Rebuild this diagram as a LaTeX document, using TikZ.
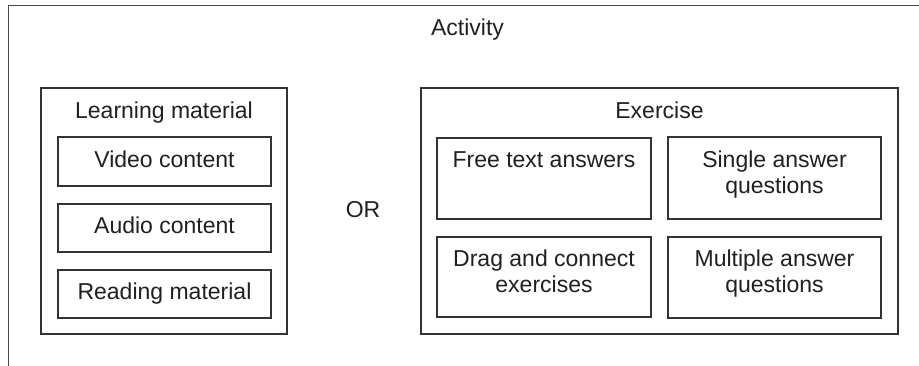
\documentclass[tikz,border=0pt]{standalone}
\usepackage{fontspec}
\setmainfont{Liberation Sans}
\usetikzlibrary{calc}
\definecolor{edge}{HTML}{333333}
\definecolor{ink}{HTML}{202020}
\begin{document}
\begin{tikzpicture}[x=1pt,y=-1pt,
  box/.style={draw=edge, line width=1.3pt, rectangle, inner sep=0pt, fill=white},
  txt/.style={text=ink, inner sep=0pt, anchor=base, align=center,
    font=\fontsize{23}{26}\selectfont}]
  \useasboundingbox (0,0) rectangle (919,365);
  % open frame of the activity: top and left edges only
  \coordinate (fbl) at (8.5,366);
  \coordinate (ftl) at (8.5,5.5);
  \coordinate (ftr) at (920,5.5);
  \draw[draw=edge!90, line width=1.5pt] (fbl) -- (ftl) -- (ftr);
  \node[txt] (activity) at (467.5,35) {Activity};

  % learning material group
  \node[box, minimum width=246, minimum height=246] (lm) at (164,211) {};
  \node[txt] (lmt) at (164,118) {Learning material};
  \node[box, minimum width=213, minimum height=49] (video) at (164.5,161.5) {};
  \node[txt] at (164.5,167) {Video content};
  \node[box, minimum width=213, minimum height=48] (audio) at (164.5,228) {};
  \node[txt] at (164.5,233) {Audio content};
  \node[box, minimum width=213, minimum height=48] (reading) at (164.5,294) {};
  \node[txt] at (164.5,299) {Reading material};

  \node[txt] (or) at (363,217) {OR};

  % exercise group (multi-line labels sit on the baseline of their last line)
  \node[box, minimum width=477, minimum height=246] (ex) at (659.5,211) {};
  \node[txt] (ext) at (659.5,118) {Exercise};
  \node[box, minimum width=214, minimum height=81] (free) at (544,178.5) {};
  \node[txt] at (544,167) {Free text answers};
  \node[box, minimum width=213, minimum height=82] (single) at (774.5,178) {};
  \node[txt] at (774.5,193) {Single answer\\questions};
  \node[box, minimum width=214, minimum height=80] (drag) at (544,277) {};
  \node[txt] at (544,292) {Drag and connect\\exercises};
  \node[box, minimum width=213, minimum height=81] (multi) at (774.5,277.5) {};
  \node[txt] at (774.5,292) {Multiple answer\\questions};
\end{tikzpicture}
\end{document}
